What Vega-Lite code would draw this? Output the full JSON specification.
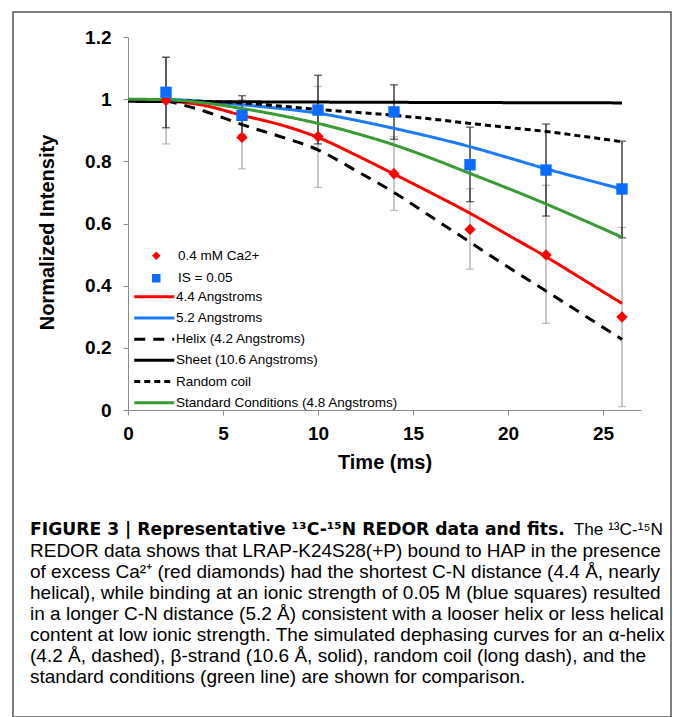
{
  "$schema": "https://vega.github.io/schema/vega-lite/v6.json",
  "width": 658,
  "height": 705,
  "autosize": {"type": "none"},
  "padding": {"left": 13, "top": 12, "right": 2, "bottom": 0},
  "background": "white",
  "config": {
    "view": {"stroke": "#555555", "strokeWidth": 1.5},
    "font": "Liberation Sans",
    "axis": {
      "grid": false,
      "domainColor": "#8c8c8c",
      "tickColor": "#8c8c8c",
      "tickSize": 5,
      "labelFont": "Liberation Sans",
      "labelFontWeight": "bold",
      "labelFontSize": 19,
      "labelColor": "#000000",
      "titleFont": "Liberation Sans",
      "titleFontSize": 20,
      "titleFontWeight": "bold",
      "titleColor": "#000000",
      "labelFlush": false
    },
    "legend": {
      "labelFont": "Liberation Sans",
      "labelFontSize": 13.5,
      "labelColor": "#000000",
      "labelLimit": 0
    }
  },
  "datasets": {
    "points": [
      {"t": 2, "series": "0.4 mM Ca2+", "value": 0.996, "lo": 0.856, "hi": 1.135},
      {"t": 6, "series": "0.4 mM Ca2+", "value": 0.877, "lo": 0.776, "hi": 0.998},
      {"t": 10, "series": "0.4 mM Ca2+", "value": 0.88, "lo": 0.716, "hi": 1.041},
      {"t": 14, "series": "0.4 mM Ca2+", "value": 0.76, "lo": 0.642, "hi": 0.879},
      {"t": 18, "series": "0.4 mM Ca2+", "value": 0.581, "lo": 0.453, "hi": 0.712},
      {"t": 22, "series": "0.4 mM Ca2+", "value": 0.499, "lo": 0.279, "hi": 0.723},
      {"t": 26, "series": "0.4 mM Ca2+", "value": 0.299, "lo": 0.011, "hi": 0.587},
      {"t": 2, "series": "IS = 0.05", "value": 1.022, "lo": 0.908, "hi": 1.135},
      {"t": 6, "series": "IS = 0.05", "value": 0.948, "lo": 0.885, "hi": 1.011},
      {"t": 10, "series": "IS = 0.05", "value": 0.965, "lo": 0.856, "hi": 1.077},
      {"t": 14, "series": "IS = 0.05", "value": 0.959, "lo": 0.871, "hi": 1.046},
      {"t": 18, "series": "IS = 0.05", "value": 0.789, "lo": 0.67, "hi": 0.91},
      {"t": 22, "series": "IS = 0.05", "value": 0.772, "lo": 0.624, "hi": 0.92},
      {"t": 26, "series": "IS = 0.05", "value": 0.711, "lo": 0.554, "hi": 0.865}
    ],
    "curves": [
      {"t": 2, "curve": "4.4 Angstroms", "value": 0.995},
      {"t": 4, "curve": "4.4 Angstroms", "value": 0.98},
      {"t": 6, "curve": "4.4 Angstroms", "value": 0.948},
      {"t": 8, "curve": "4.4 Angstroms", "value": 0.918},
      {"t": 10, "curve": "4.4 Angstroms", "value": 0.877},
      {"t": 12, "curve": "4.4 Angstroms", "value": 0.82},
      {"t": 14, "curve": "4.4 Angstroms", "value": 0.759},
      {"t": 16, "curve": "4.4 Angstroms", "value": 0.697},
      {"t": 18, "curve": "4.4 Angstroms", "value": 0.633},
      {"t": 20, "curve": "4.4 Angstroms", "value": 0.563},
      {"t": 22, "curve": "4.4 Angstroms", "value": 0.493},
      {"t": 24, "curve": "4.4 Angstroms", "value": 0.418},
      {"t": 26, "curve": "4.4 Angstroms", "value": 0.343},
      {"t": 2, "curve": "5.2 Angstroms", "value": 1.0},
      {"t": 4, "curve": "5.2 Angstroms", "value": 0.993},
      {"t": 6, "curve": "5.2 Angstroms", "value": 0.982},
      {"t": 8, "curve": "5.2 Angstroms", "value": 0.97},
      {"t": 10, "curve": "5.2 Angstroms", "value": 0.955},
      {"t": 12, "curve": "5.2 Angstroms", "value": 0.932},
      {"t": 14, "curve": "5.2 Angstroms", "value": 0.906},
      {"t": 16, "curve": "5.2 Angstroms", "value": 0.878},
      {"t": 18, "curve": "5.2 Angstroms", "value": 0.847},
      {"t": 20, "curve": "5.2 Angstroms", "value": 0.812},
      {"t": 22, "curve": "5.2 Angstroms", "value": 0.776},
      {"t": 24, "curve": "5.2 Angstroms", "value": 0.743},
      {"t": 26, "curve": "5.2 Angstroms", "value": 0.711},
      {"t": 2, "curve": "Helix (4.2 Angstroms)", "value": 0.995},
      {"t": 4, "curve": "Helix (4.2 Angstroms)", "value": 0.962},
      {"t": 6, "curve": "Helix (4.2 Angstroms)", "value": 0.918},
      {"t": 8, "curve": "Helix (4.2 Angstroms)", "value": 0.88},
      {"t": 10, "curve": "Helix (4.2 Angstroms)", "value": 0.837},
      {"t": 12, "curve": "Helix (4.2 Angstroms)", "value": 0.77},
      {"t": 14, "curve": "Helix (4.2 Angstroms)", "value": 0.7},
      {"t": 16, "curve": "Helix (4.2 Angstroms)", "value": 0.62},
      {"t": 18, "curve": "Helix (4.2 Angstroms)", "value": 0.54},
      {"t": 20, "curve": "Helix (4.2 Angstroms)", "value": 0.46},
      {"t": 22, "curve": "Helix (4.2 Angstroms)", "value": 0.383},
      {"t": 24, "curve": "Helix (4.2 Angstroms)", "value": 0.305},
      {"t": 26, "curve": "Helix (4.2 Angstroms)", "value": 0.227},
      {"t": 0, "curve": "Sheet (10.6 Angstroms)", "value": 0.993},
      {"t": 13, "curve": "Sheet (10.6 Angstroms)", "value": 0.99},
      {"t": 26, "curve": "Sheet (10.6 Angstroms)", "value": 0.988},
      {"t": 2, "curve": "Random coil", "value": 0.995},
      {"t": 4, "curve": "Random coil", "value": 0.993},
      {"t": 6, "curve": "Random coil", "value": 0.988},
      {"t": 8, "curve": "Random coil", "value": 0.978},
      {"t": 10, "curve": "Random coil", "value": 0.967},
      {"t": 12, "curve": "Random coil", "value": 0.958},
      {"t": 14, "curve": "Random coil", "value": 0.948},
      {"t": 16, "curve": "Random coil", "value": 0.936},
      {"t": 18, "curve": "Random coil", "value": 0.922},
      {"t": 20, "curve": "Random coil", "value": 0.909},
      {"t": 22, "curve": "Random coil", "value": 0.896},
      {"t": 24, "curve": "Random coil", "value": 0.88},
      {"t": 26, "curve": "Random coil", "value": 0.863},
      {"t": 0, "curve": "Standard Conditions (4.8 Angstroms)", "value": 1.0},
      {"t": 2, "curve": "Standard Conditions (4.8 Angstroms)", "value": 0.998},
      {"t": 4, "curve": "Standard Conditions (4.8 Angstroms)", "value": 0.988},
      {"t": 6, "curve": "Standard Conditions (4.8 Angstroms)", "value": 0.97},
      {"t": 8, "curve": "Standard Conditions (4.8 Angstroms)", "value": 0.948},
      {"t": 10, "curve": "Standard Conditions (4.8 Angstroms)", "value": 0.922},
      {"t": 12, "curve": "Standard Conditions (4.8 Angstroms)", "value": 0.89},
      {"t": 14, "curve": "Standard Conditions (4.8 Angstroms)", "value": 0.853},
      {"t": 16, "curve": "Standard Conditions (4.8 Angstroms)", "value": 0.809},
      {"t": 18, "curve": "Standard Conditions (4.8 Angstroms)", "value": 0.761},
      {"t": 20, "curve": "Standard Conditions (4.8 Angstroms)", "value": 0.713},
      {"t": 22, "curve": "Standard Conditions (4.8 Angstroms)", "value": 0.663},
      {"t": 24, "curve": "Standard Conditions (4.8 Angstroms)", "value": 0.61},
      {"t": 26, "curve": "Standard Conditions (4.8 Angstroms)", "value": 0.556}
    ],
    "caption": [
      {"line": 1, "part": "bold", "text": "FIGURE 3 | Representative ¹³C-¹⁵N REDOR data and fits."},
      {"line": 1, "part": "tail", "text": "The ¹³C-¹⁵N"},
      {"line": 2, "part": "body", "text": "REDOR data shows that LRAP-K24S28(+P) bound to HAP in the presence"},
      {"line": 3, "part": "body", "text": "of excess Ca²⁺ (red diamonds) had the shortest C-N distance (4.4 Å, nearly"},
      {"line": 4, "part": "body", "text": "helical), while binding at an ionic strength of 0.05 M (blue squares) resulted"},
      {"line": 5, "part": "body", "text": "in a longer C-N distance (5.2 Å) consistent with a looser helix or less helical"},
      {"line": 6, "part": "body", "text": "content at low ionic strength. The simulated dephasing curves for an α-helix"},
      {"line": 7, "part": "body", "text": "(4.2 Å, dashed), β-strand (10.6 Å, solid), random coil (long dash), and the"},
      {"line": 8, "part": "body", "text": "standard conditions (green line) are shown for comparison."}
    ]
  },
  "layer": [
    {
      "encoding": {
        "x": {
          "field": "t",
          "type": "quantitative",
          "title": "Time (ms)",
          "scale": {"domain": [0, 27], "range": [115, 628], "nice": false, "zero": false},
          "axis": {"offset": -307, "values": [0, 5, 10, 15, 20, 25], "labelPadding": 9, "titlePadding": 9}
        }
      },
      "layer": [
        {
          "data": {"name": "points"},
          "transform": [{"filter": "datum.series === '0.4 mM Ca2+'"}],
          "mark": {"type": "rule", "color": "#a3a3a3", "strokeWidth": 1.2},
          "encoding": {
            "y": {
              "field": "lo", "type": "quantitative", "title": "Normalized Intensity",
              "scale": {"domain": [0, 1.2], "range": [398, 25], "nice": false, "zero": false},
              "axis": {"offset": -115, "values": [0, 0.2, 0.4, 0.6, 0.8, 1, 1.2], "format": "~g", "labelPadding": 12, "titlePadding": 27, "titleY": 220}
            },
            "y2": {"field": "hi"}
          }
        },
        {
          "data": {"name": "points"},
          "transform": [{"filter": "datum.series === '0.4 mM Ca2+'"}],
          "mark": {"type": "tick", "orient": "horizontal", "color": "#a3a3a3", "size": 8, "thickness": 1.2},
          "encoding": {"y": {"field": "lo", "type": "quantitative", "title": "Normalized Intensity"}}
        },
        {
          "data": {"name": "points"},
          "transform": [{"filter": "datum.series === '0.4 mM Ca2+'"}],
          "mark": {"type": "tick", "orient": "horizontal", "color": "#a3a3a3", "size": 8, "thickness": 1.2},
          "encoding": {"y": {"field": "hi", "type": "quantitative", "title": "Normalized Intensity"}}
        },
        {
          "data": {"name": "points"},
          "transform": [{"filter": "datum.series === 'IS = 0.05'"}],
          "mark": {"type": "rule", "color": "#111111", "strokeWidth": 1.2},
          "encoding": {
            "y": {"field": "lo", "type": "quantitative", "title": "Normalized Intensity"},
            "y2": {"field": "hi"}
          }
        },
        {
          "data": {"name": "points"},
          "transform": [{"filter": "datum.series === 'IS = 0.05'"}],
          "mark": {"type": "tick", "orient": "horizontal", "color": "#111111", "size": 8, "thickness": 1.2},
          "encoding": {"y": {"field": "lo", "type": "quantitative", "title": "Normalized Intensity"}}
        },
        {
          "data": {"name": "points"},
          "transform": [{"filter": "datum.series === 'IS = 0.05'"}],
          "mark": {"type": "tick", "orient": "horizontal", "color": "#111111", "size": 8, "thickness": 1.2},
          "encoding": {"y": {"field": "hi", "type": "quantitative", "title": "Normalized Intensity"}}
        },
        {
          "data": {"name": "curves"},
          "mark": {"type": "line", "interpolate": "monotone", "strokeWidth": 3},
          "encoding": {
            "y": {"field": "value", "type": "quantitative", "title": "Normalized Intensity"},
            "stroke": {
              "field": "curve", "type": "nominal",
              "scale": {
                "domain": ["4.4 Angstroms", "5.2 Angstroms", "Helix (4.2 Angstroms)", "Sheet (10.6 Angstroms)", "Random coil", "Standard Conditions (4.8 Angstroms)"],
                "range": ["#ff0000", "#1a7af8", "#000000", "#000000", "#000000", "#3a9a33"]
              },
              "legend": {
                "orient": "none", "legendX": 134.5, "legendY": 278, "title": null,
                "symbolType": "M-4,0H4", "symbolSize": 100, "symbolStrokeWidth": 3,
                "symbolOffset": 0, "labelOffset": 15, "rowPadding": 6.2, "padding": 0
              }
            },
            "strokeDash": {
              "field": "curve", "type": "nominal",
              "scale": {
                "domain": ["4.4 Angstroms", "5.2 Angstroms", "Helix (4.2 Angstroms)", "Sheet (10.6 Angstroms)", "Random coil", "Standard Conditions (4.8 Angstroms)"],
                "range": [[1, 0], [1, 0], [11, 8], [1, 0], [6, 4], [1, 0]]
              },
              "legend": {
                "orient": "none", "legendX": 134.5, "legendY": 278, "title": null,
                "symbolType": "M-4,0H4", "symbolSize": 100, "symbolStrokeWidth": 3,
                "symbolOffset": 0, "labelOffset": 15, "rowPadding": 6.2, "padding": 0
              }
            }
          }
        },
        {
          "data": {"name": "points"},
          "mark": {"type": "point", "filled": true, "size": 130, "opacity": 1},
          "encoding": {
            "y": {"field": "value", "type": "quantitative", "title": "Normalized Intensity"},
            "color": {
              "field": "series", "type": "nominal",
              "scale": {"domain": ["0.4 mM Ca2+", "IS = 0.05"], "range": ["#ff0000", "#0a6cff"]},
              "legend": {
                "orient": "none", "legendX": 134.5, "legendY": 237, "title": null,
                "symbolSize": 72, "symbolOffset": 2, "labelOffset": 15, "rowPadding": 7.5, "padding": 0
              }
            },
            "shape": {
              "field": "series", "type": "nominal",
              "scale": {"domain": ["0.4 mM Ca2+", "IS = 0.05"], "range": ["diamond", "square"]},
              "legend": {
                "orient": "none", "legendX": 134.5, "legendY": 237, "title": null,
                "symbolSize": 72, "symbolOffset": 2, "labelOffset": 15, "rowPadding": 7.5, "padding": 0
              }
            }
          }
        }
      ]
    },
    {
      "data": {"name": "caption"},
      "encoding": {
        "x": {"datum": 0, "type": "quantitative", "scale": {"domain": [0, 1], "range": [17, 650]}, "axis": null},
        "y": {"field": "line", "type": "quantitative", "scale": {"domain": [1, 8], "range": [518, 665], "nice": false, "zero": false}, "axis": null},
        "text": {"field": "text"}
      },
      "layer": [
        {
          "transform": [{"filter": "datum.part === 'bold'"}],
          "mark": {"type": "text", "align": "left", "baseline": "middle", "font": "DejaVu Sans", "fontSize": 17.2, "fontWeight": "bold", "color": "#000000"}
        },
        {
          "transform": [{"filter": "datum.part === 'tail'"}],
          "mark": {"type": "text", "align": "right", "baseline": "middle", "font": "Liberation Sans", "fontSize": 17.2, "dx": 633, "color": "#000000"}
        },
        {
          "transform": [{"filter": "datum.part === 'body'"}],
          "mark": {"type": "text", "align": "left", "baseline": "middle", "font": "Liberation Sans", "fontSize": 19, "color": "#000000"}
        }
      ]
    }
  ],
  "resolve": {"scale": {"x": "independent", "y": "independent"}}
}
